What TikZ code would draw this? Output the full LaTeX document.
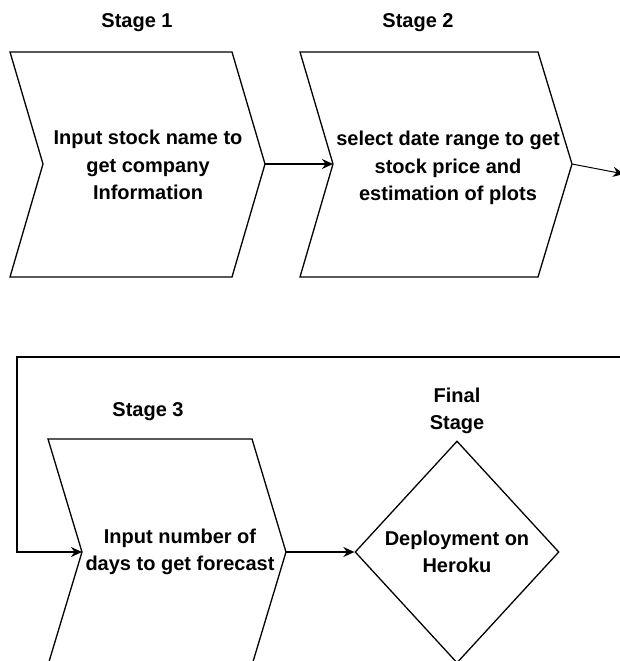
\documentclass[tikz,border=0pt]{standalone}
\usepackage{fontspec}
\setmainfont{Liberation Sans}
\usetikzlibrary{arrows.meta,shapes.geometric}

\begin{document}
\begin{tikzpicture}[x=1pt,y=-1pt,
                    arrow/.style = {line width=1.5pt,-{Stealth[length=11pt,width=10pt]}},
                    feedback/.style = {line width=2.2pt,-{Stealth[length=11pt,width=10pt]}},
                    outline/.style = {line width=1.3pt,fill=white},
                    txt/.style = {align=center,font=\bfseries\fontsize{20}{27.5}\selectfont}]
                        \clip (0,0) rectangle (620,661);

                        % stage boxes
                        \draw[outline] (10,52) -- (232,52) -- (265,164) coordinate (s1tip) -- (232,277) -- (10,277) -- (43,164) coordinate (s1notch) -- cycle;
                        \draw[outline] (300,52) -- (538,52) -- (572,164) coordinate (s2tip) -- (538,277) -- (300,277) -- (333,164) coordinate (s2notch) -- cycle;
                        \draw[outline] (48,439) -- (252,439) -- (286,552) coordinate (s3tip) -- (252,665) -- (48,665) -- (82,552) coordinate (s3notch) -- cycle;
                        \node[diamond,draw,line width=1.3pt,minimum width=204pt,minimum height=222pt,inner sep=0pt,txt] (fin) at (457,552) {Deployment on\\Heroku};

                        \node[txt] (s1text) at (148,165) {Input stock name to\\get company\\Information};
                        \node[txt] (s2text) at (448,168) {select date range to get\\stock price and\\estimation of plots};
                        \node[txt] (s3text) at (180,552) {Input number of\\days to get forecast};

                        \node[txt] (s1label) at (137,23) {Stage 1};
                        \node[txt] (s2label) at (418,23) {Stage 2};
                        \node[txt] (s3label) at (148,412) {Stage 3};
                        \node[txt] (finlabel) at (457,411) {Final\\Stage};

                        % connectors
                        \coordinate (rightedge) at (624,174);
                        \coordinate (loopin) at (622,357);
                        \draw[arrow] (s1tip) -- (s2notch);
                        \draw[line width=1pt,-{Stealth[length=11pt,width=10pt]}] (s2tip) -- (rightedge);
                        \draw[feedback] (loopin) -- (17,357) |- (s3notch);
                        \draw[arrow] (s3tip) -- (fin.west);
                    \end{tikzpicture}
\end{document}
